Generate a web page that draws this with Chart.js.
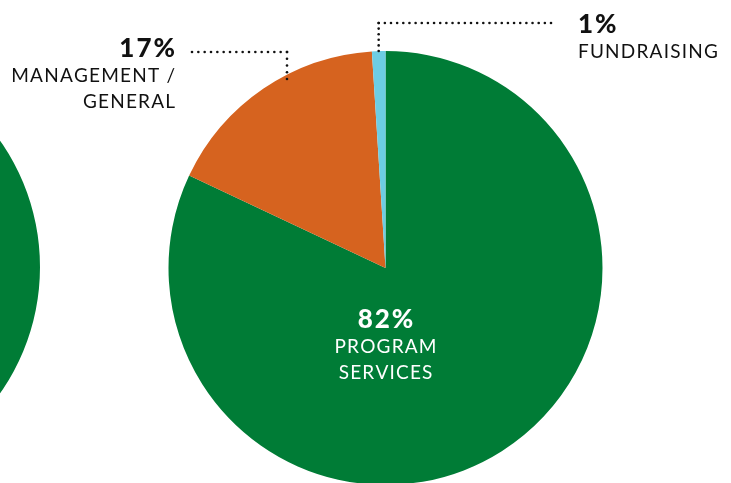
<!DOCTYPE html>
<html>
<head>
<meta charset="utf-8">
<script src="https://cdn.jsdelivr.net/npm/chart.js@4"></script>
<style>
  html, body { margin: 0; padding: 0; background: #fff; }
  body { width: 731px; height: 483px; overflow: hidden; position: relative; }
  #mainWrap { position: absolute; left: 0; top: 0; width: 731px; height: 540px; }
  #sideWrap { position: absolute; left: -400px; top: 47px; width: 440px; height: 440px; }
</style>
</head>
<body>
<div id="sideWrap"><canvas id="side"></canvas></div>
<div id="mainWrap"><canvas id="main"></canvas></div>
<script>
// Expense breakdown
const categories = ['PROGRAM SERVICES', 'MANAGEMENT / GENERAL', 'FUNDRAISING'];
const shares = [82, 17, 1];
const sliceColors = ['#007c36', '#d6631f', '#6dcde3'];

// Neighbouring pie, only its right edge shows
const sideCategories = ['PROGRAM SERVICES'];
const sideShares = [100];

const FONT = 'Lato, "Noto Sans", sans-serif';

new Chart(document.getElementById('side'), {
  type: 'pie',
  data: { labels: sideCategories, datasets: [{ data: sideShares, backgroundColor: ['#007c36'], borderWidth: 0 }] },
  options: {
    responsive: true, maintainAspectRatio: false, animation: false,
    layout: { padding: 0 },
    plugins: { legend: { display: false }, tooltip: { enabled: false } }
  }
});

function dotted(ctx, pts) {
  ctx.save();
  ctx.fillStyle = '#111';
  for (let i = 0; i < pts.length - 1; i++) {
    const [x0, y0] = pts[i], [x1, y1] = pts[i + 1];
    const len = Math.hypot(x1 - x0, y1 - y0);
    const n = Math.round(len / 6.2);
    for (let k = 0; k <= n; k++) {
      const t = n ? k / n : 0;
      ctx.beginPath();
      ctx.arc(x0 + (x1 - x0) * t, y0 + (y1 - y0) * t, 1.3, 0, Math.PI * 2);
      ctx.fill();
    }
  }
  ctx.restore();
}

// Draws text with extra tracking; handles alignment manually
function tracked(ctx, text, x, y, align, spacing) {
  let w = 0;
  const widths = [...text].map(ch => { const m = ctx.measureText(ch).width; w += m; return m; });
  w += spacing * (text.length - 1);
  let sx = align === 'right' ? x - w : align === 'center' ? x - w / 2 : x;
  ctx.save();
  ctx.textAlign = 'left';
  [...text].forEach((ch, i) => { ctx.fillText(ch, sx, y); sx += widths[i] + spacing; });
  ctx.restore();
}

const labelPlugin = {
  id: 'sliceLabels',
  afterDatasetsDraw(chart) {
    const ctx = chart.ctx;
    const arcs = chart.getDatasetMeta(0).data;
    const cx = arcs[0].x, cy = arcs[0].y, r = arcs[0].outerRadius;
    const big = '900 26px ' + FONT, small = '400 19px ' + FONT;
    const bs = 2, ss = 1.2;
    ctx.save();
    ctx.textBaseline = 'alphabetic';

    // Program services, inside the big slice
    ctx.fillStyle = '#fff';
    ctx.font = big;
    tracked(ctx, shares[0] + '%', cx, cy + 60, 'center', bs);
    ctx.font = small;
    tracked(ctx, 'PROGRAM', cx, cy + 85, 'center', ss);
    tracked(ctx, 'SERVICES', cx, cy + 111, 'center', ss);

    // Management / general, left of the pie
    ctx.fillStyle = '#111';
    ctx.font = big;
    tracked(ctx, shares[1] + '%', 175, 57, 'right', bs);
    ctx.font = small;
    tracked(ctx, 'MANAGEMENT /', 175, 82, 'right', ss);
    tracked(ctx, 'GENERAL', 175, 108, 'right', ss);

    // Fundraising, top right
    ctx.font = big;
    tracked(ctx, shares[2] + '%', 578, 33, 'left', bs);
    ctx.font = small;
    tracked(ctx, 'FUNDRAISING', 578, 58, 'left', ss);
    ctx.restore();

    // Leader lines
    const mgX = 287;
    dotted(ctx, [[192, 52], [mgX, 52], [mgX, 79]]);
    const fa = arcs[2];
    const midA = (fa.startAngle + fa.endAngle) / 2;
    const fx = cx + Math.cos(midA) * r;
    dotted(ctx, [[551, 23], [fx, 23], [fx, cy - r]]);
  }
};

new Chart(document.getElementById('main'), {
  type: 'pie',
  data: { labels: categories, datasets: [{ data: shares, backgroundColor: sliceColors, borderWidth: 0 }] },
  options: {
    responsive: true, maintainAspectRatio: false, animation: false,
    layout: { padding: { left: 168, right: 128, top: 51, bottom: 55 } },
    plugins: { legend: { display: false }, tooltip: { enabled: false } }
  },
  plugins: [labelPlugin]
});
</script>
</body>
</html>
